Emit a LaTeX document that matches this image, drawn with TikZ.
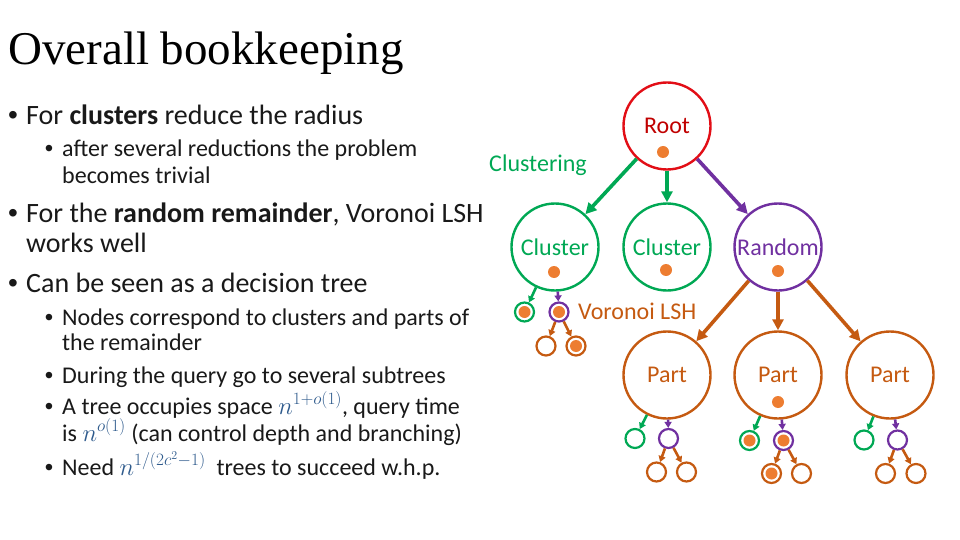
\documentclass[tikz,border=0pt]{standalone}
\usepackage{fontspec}
\setmainfont{Carlito}
\newfontfamily\titlefont{Liberation Serif}
\newfontfamily\bulletfont{Liberation Sans}
\usetikzlibrary{arrows.meta}
\definecolor{rootred}{RGB}{226,14,22}
\definecolor{roottext}{RGB}{192,0,0}
\definecolor{clugreen}{RGB}{0,168,84}
\definecolor{rndpurple}{RGB}{112,48,160}
\definecolor{partbrown}{RGB}{197,90,17}
\definecolor{qorange}{RGB}{237,125,49}
\definecolor{mathblue}{RGB}{46,90,140}
\definecolor{bodytext}{RGB}{25,25,25}
\tikzset{
    bignode/.style={circle, draw=#1, text=#1, line width=2.4pt, minimum size=87pt, inner sep=0pt,
        font=\fontsize{24}{28}\selectfont},
    smallnode/.style={circle, draw=#1, line width=2.2pt, minimum size=19pt, inner sep=0pt},
    querydot/.style={circle, fill=qorange, inner sep=0pt, minimum size=12pt},
    bigarrow/.style={draw=#1, line width=3.6pt, -{Triangle[length=11pt,width=11pt]}},
    smallarrow/.style={draw=#1, line width=2.6pt, -{Triangle[length=6pt,width=7pt]}},
    mainline/.style={anchor=base west, inner sep=0pt, text=bodytext, font=\fontsize{28}{30}\selectfont},
    subline/.style={anchor=base west, inner sep=0pt, text=bodytext, font=\fontsize{24}{26}\selectfont},
    mainbullet/.style={anchor=base, inner sep=0pt, text=bodytext, font=\bulletfont\fontsize{28}{30}\selectfont},
    subbullet/.style={anchor=base, inner sep=0pt, text=bodytext, font=\bulletfont\fontsize{24}{26}\selectfont},
}
\newcommand{\mathn}[1]{\textcolor{mathblue}{$#1$}}

\begin{document}
\begin{tikzpicture}[x=1pt, y=-1pt]
    \useasboundingbox (0,0) rectangle (960,540);

    % title and bullet text
    \node[anchor=base west, inner sep=0pt, font=\titlefont\fontsize{47}{50}\selectfont] (title) at (8,65) {Overall bookkeeping};

    \node[mainbullet] (b1) at (13,125) {•};
    \node[mainline] (l1) at (26,125) {For \textbf{clusters} reduce the radius};
    \node[subbullet] (b2) at (49,157) {•};
    \node[subline] (l2) at (62,157) {after several reductions the problem};
    \node[subline] (l3) at (62,183) {becomes trivial};
    \node[mainbullet] (b3) at (13,222) {•};
    \node[mainline] (l4) at (26,222) {For the \textbf{random remainder}, Voronoi LSH};
    \node[mainline] (l5) at (26,252) {works well};
    \node[mainbullet] (b4) at (13,292) {•};
    \node[mainline] (l6) at (26,292) {Can be seen as a decision tree};
    \node[subbullet] (b5) at (49,325) {•};
    \node[subline] (l7) at (62,325) {Nodes correspond to clusters and parts of};
    \node[subline] (l8) at (62,350) {the remainder};
    \node[subbullet] (b6) at (49,383) {•};
    \node[subline] (l9) at (62,383) {During the query go to several subtrees};
    \node[subbullet] (b7) at (49,414) {•};
    \node[subline] (l10) at (62,414) {A tree occupies space \mathn{n^{1+o(1)}}, query time};
    \node[subline] (l11) at (62,441) {is \mathn{n^{o(1)}} (can control depth and branching)};
    \node[subbullet] (b8) at (49,475) {•};
    \node[subline] (l12) at (62,475) {Need \mathn{n^{1/(2c^2-1)}}\ \ trees to succeed w.h.p.};

    % tree
    \node[bignode=rootred, text=roottext] (root) at (667,126) {Root};
    \node[bignode=clugreen] (clua) at (555,247) {Cluster};
    \node[bignode=clugreen] (club) at (667,247) {Cluster};
    \node[bignode=rndpurple] (rnd) at (778,247) {Random};
    \node[bignode=partbrown] (parta) at (667,375) {Part};
    \node[bignode=partbrown] (partb) at (778,375) {Part};
    \node[bignode=partbrown] (partc) at (890,375) {Part};

    \node[text=clugreen, font=\fontsize{24}{28}\selectfont] (clulabel) at (538,165) {Clustering};
    \node[text=partbrown, font=\fontsize{24}{28}\selectfont, anchor=west, inner sep=0pt] (vorlabel) at (578,311) {Voronoi LSH};

    \node[smallnode=clugreen] (cag) at (524.5,312) {};
    \node[smallnode=rndpurple] (cap) at (559,312) {};
    \node[smallnode=partbrown] (capl) at (546,346) {};
    \node[smallnode=partbrown] (capr) at (576,346) {};

    \node[smallnode=clugreen] (pag) at (635,438.5) {};
    \node[smallnode=rndpurple] (pap) at (668.5,438.5) {};
    \node[smallnode=partbrown] (papl) at (656.5,472) {};
    \node[smallnode=partbrown] (papr) at (686.5,472) {};

    \node[smallnode=clugreen] (pbg) at (749.5,440.5) {};
    \node[smallnode=rndpurple] (pbp) at (783.5,440.5) {};
    \node[smallnode=partbrown] (pbpl) at (771.5,473.5) {};
    \node[smallnode=partbrown] (pbpr) at (801.5,473.5) {};

    \node[smallnode=clugreen] (pcg) at (864,440) {};
    \node[smallnode=rndpurple] (pcp) at (897.5,440) {};
    \node[smallnode=partbrown] (pcpl) at (885.5,473.5) {};
    \node[smallnode=partbrown] (pcpr) at (916,473.5) {};

    % query points
    \node[querydot] (qroot) at (663,152) {};
    \node[querydot] (qclua) at (554,272) {};
    \node[querydot] (qclub) at (666,270) {};
    \node[querydot] (qrnd) at (778,271) {};
    \node[querydot] (qpartb) at (778,402) {};
    \node[querydot] (qcag) at (cag) {};
    \node[querydot] (qcap) at (cap) {};
    \node[querydot] (qcapr) at (capr) {};
    \node[querydot] (qpbg) at (pbg) {};
    \node[querydot] (qpbp) at (pbp) {};
    \node[querydot] (qpbpl) at (pbpl) {};

    \draw[bigarrow=clugreen] (root) -- (clua);
    \draw[bigarrow=clugreen] (root) -- (club);
    \draw[bigarrow=rndpurple] (root) -- (rnd);
    \draw[bigarrow=partbrown] (rnd) -- (parta);
    \draw[bigarrow=partbrown] (rnd) -- (partb);
    \draw[bigarrow=partbrown] (rnd) -- (partc);

    \draw[smallarrow=clugreen] (clua) -- (cag);
    \draw[smallarrow=rndpurple] (clua) -- (cap);
    \draw[smallarrow=partbrown] (cap) -- (capl);
    \draw[smallarrow=partbrown] (cap) -- (capr);

    \draw[smallarrow=clugreen] (parta) -- (pag);
    \draw[smallarrow=rndpurple] (parta) -- (pap);
    \draw[smallarrow=partbrown] (pap) -- (papl);
    \draw[smallarrow=partbrown] (pap) -- (papr);

    \draw[smallarrow=clugreen] (partb) -- (pbg);
    \draw[smallarrow=rndpurple] (partb) -- (pbp);
    \draw[smallarrow=partbrown] (pbp) -- (pbpl);
    \draw[smallarrow=partbrown] (pbp) -- (pbpr);

    \draw[smallarrow=clugreen] (partc) -- (pcg);
    \draw[smallarrow=rndpurple] (partc) -- (pcp);
    \draw[smallarrow=partbrown] (pcp) -- (pcpl);
    \draw[smallarrow=partbrown] (pcp) -- (pcpr);
\end{tikzpicture}
\end{document}
